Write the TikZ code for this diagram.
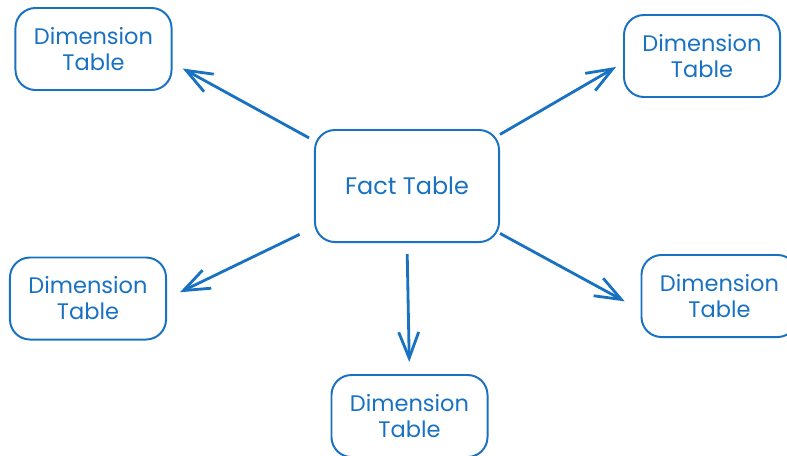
\documentclass[tikz,border=0pt]{standalone}
\usepackage{fontspec}
\setmainfont{Poppins}
\usetikzlibrary{arrows.meta}
\definecolor{dimblue}{HTML}{1971C2}
\tikzset {>={Straight Barb[length=6.5mm,width=5mm]}}
\tikzset{tbl/.style={draw=dimblue,line width=1.4pt,rounded corners=0.5cm,
  minimum width=3.9cm,minimum height=2.05cm,align=center,text=dimblue,
  font=\fontsize{16}{18.5}\selectfont},
  link/.style={draw=dimblue,line width=2pt,->}}

\begin{document}
\begin{tikzpicture}[x=0.025cm,y=-0.025cm]
\useasboundingbox (0,0) rectangle (787,455);
\node[tbl,minimum width=4.6cm,minimum height=2.8cm,font=\fontsize{17}{20}\selectfont] (fact) at (407,186) {Fact Table};
\node[tbl] (dtl) at (93.5,49) {Dimension\\Table};
\node[tbl] (dtr) at (702,56) {Dimension\\Table};
\node[tbl] (dlm) at (88,298.5) {Dimension\\Table};
\node[tbl] (dbot) at (409.5,416) {Dimension\\Table};
\node[tbl] (drm) at (719.5,296) {Dimension\\Table};
\draw[link,shorten <=0.14cm,shorten >=0.29cm] (fact.154) -- (dtl.-10);
\draw[link,shorten >=0.2cm] (fact.29) -- (dtr.-175);
\draw[link,shorten <=0.4cm,shorten >=0.36cm] (fact.204) -- (dlm.east);
\draw[link,shorten <=0.28cm,shorten >=0.3cm] (fact.south) -- (dbot.north);
\draw[link,shorten >=0.45cm] (fact.-27) -- (drm.190);
\end{tikzpicture}
\end{document}
